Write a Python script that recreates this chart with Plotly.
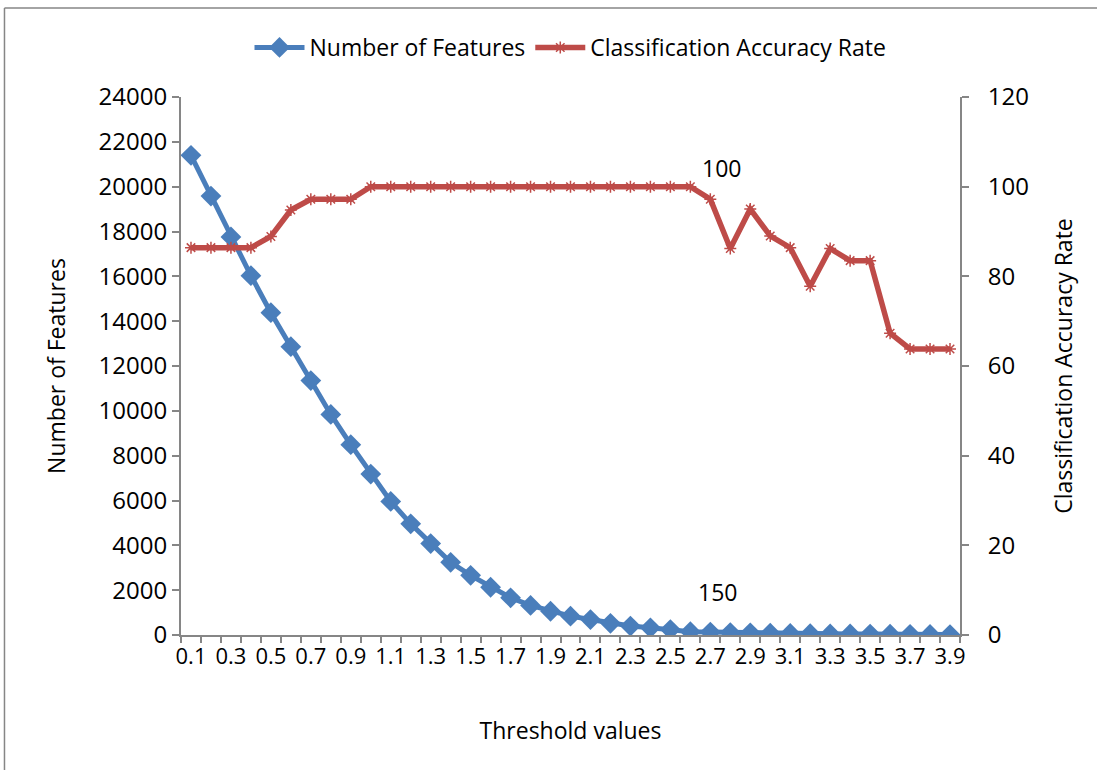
import plotly.graph_objects as go

# Threshold values on the category axis
thresholds = [0.1, 0.2, 0.3, 0.4, 0.5, 0.6, 0.7, 0.8, 0.9, 1.0,
              1.1, 1.2, 1.3, 1.4, 1.5, 1.6, 1.7, 1.8, 1.9, 2.0,
              2.1, 2.2, 2.3, 2.4, 2.5, 2.6, 2.7, 2.8, 2.9, 3.0,
              3.1, 3.2, 3.3, 3.4, 3.5, 3.6, 3.7, 3.8, 3.9]
tick_labels = ["0.1", "0.3", "0.5", "0.7", "0.9", "1.1", "1.3", "1.5", "1.7", "1.9",
               "2.1", "2.3", "2.5", "2.7", "2.9", "3.1", "3.3", "3.5", "3.7", "3.9"]

# Number of selected features per threshold (left axis)
num_features = [21400, 19580, 17760, 16030, 14380, 12860, 11350, 9840, 8490, 7180,
                5960, 4960, 4080, 3240, 2660, 2130, 1660, 1320, 1060, 840,
                690, 520, 400, 320, 240, 150, 130, 110, 95, 80,
                70, 60, 50, 45, 40, 35, 30, 25, 20]

# Classification accuracy rate in percent (right axis)
accuracy = [86.4, 86.4, 86.4, 86.4, 88.9, 94.8, 97.2, 97.2, 97.2, 100,
            100, 100, 100, 100, 100, 100, 100, 100, 100, 100,
            100, 100, 100, 100, 100, 100, 97.2, 86.2, 95.0, 89.0,
            86.4, 77.8, 86.2, 83.5, 83.5, 67.3, 63.8, 63.8, 63.8]

BLUE = "#4A7EBB"
RED = "#BE4B48"
AXIS = "#868686"
FONT = "Open Sans"
TXT = 23
TICK = 24

fig = go.Figure()

fig.add_trace(go.Scatter(
    x=thresholds, y=num_features, name="Number of Features",
    mode="lines+markers",
    line=dict(color=BLUE, width=5),
    marker=dict(symbol="diamond", size=16, color=BLUE),
    yaxis="y",
))

fig.add_trace(go.Scatter(
    x=thresholds, y=accuracy, name="Classification Accuracy Rate",
    mode="lines+markers",
    line=dict(color=RED, width=5.5),
    marker=dict(symbol="asterisk-open", size=10, color=RED,
                line=dict(color=RED, width=1.5)),
    yaxis="y2",
))

# Data labels at threshold 2.6
idx = thresholds.index(2.6)
fig.add_annotation(x=thresholds[idx], y=accuracy[idx], yref="y2",
                   text=f"{accuracy[idx]:g}", showarrow=False,
                   xshift=31, yshift=19, font=dict(family=FONT, size=TXT, color="black"))
fig.add_annotation(x=thresholds[idx], y=num_features[idx], yref="y",
                   text=f"{num_features[idx]:g}", showarrow=False,
                   xshift=27, yshift=40, font=dict(family=FONT, size=TXT, color="black"))

# Outer chart frame (left and top edges)
fig.add_shape(type="line", xref="paper", yref="paper",
              x0=-0.2266, x1=-0.2266, y0=-0.4, y1=1.1656,
              line=dict(color=AXIS, width=1.5))
fig.add_shape(type="line", xref="paper", yref="paper",
              x0=-0.2266, x1=1.3, y0=1.1656, y1=1.1656,
              line=dict(color=AXIS, width=1.5))

fig.update_layout(
    width=1097, height=770,
    margin=dict(l=181, r=137, t=97, b=134.5, autoexpand=False),
    paper_bgcolor="white", plot_bgcolor="white",
    font=dict(family=FONT, size=TXT, color="black"),
    showlegend=True,
    legend=dict(orientation="h", x=0.5, xanchor="center", y=1.092, yanchor="middle",
                font=dict(family=FONT, size=TXT, color="black"),
                itemwidth=50, tracegroupgap=0, bgcolor="rgba(0,0,0,0)"),
    xaxis=dict(
        range=[0.05, 3.95],
        tickmode="array", tickvals=thresholds[::2], ticktext=tick_labels,
        ticks="", ticklabelstandoff=1,
        showline=True, linecolor=AXIS, linewidth=2,
        showgrid=False, zeroline=False,
        minor=dict(tickmode="linear", tick0=0.05, dtick=0.1, ticks="outside",
                   ticklen=6, tickcolor=AXIS, tickwidth=1.5, showgrid=False),
        title=dict(text="Threshold values", standoff=53,
                   font=dict(family=FONT, size=TXT, color="black")),
        tickfont=dict(family=FONT, size=22, color="black"),
    ),
    yaxis=dict(
        range=[0, 24000], tickmode="linear", tick0=0, dtick=2000, tickformat="d",
        ticks="outside", ticklen=7, tickcolor=AXIS, tickwidth=1.5,
        showline=True, linecolor=AXIS, linewidth=2,
        showgrid=False, zeroline=False,
        title=dict(text="Number of Features", standoff=27,
                   font=dict(family=FONT, size=TXT, color="black")),
        tickfont=dict(family=FONT, size=TICK, color="black"),
    ),
    yaxis2=dict(
        range=[0, 120], tickmode="linear", tick0=0, dtick=20,
        overlaying="y", side="right",
        ticks="outside", ticklen=7, tickcolor=AXIS, tickwidth=1.5,
        ticklabelstandoff=14,
        showline=True, linecolor=AXIS, linewidth=2,
        showgrid=False, zeroline=False,
        title=dict(text="Classification Accuracy Rate", standoff=28,
                   font=dict(family=FONT, size=TXT, color="black")),
        tickfont=dict(family=FONT, size=TICK, color="black"),
    ),
)

fig.write_html("out.html")
